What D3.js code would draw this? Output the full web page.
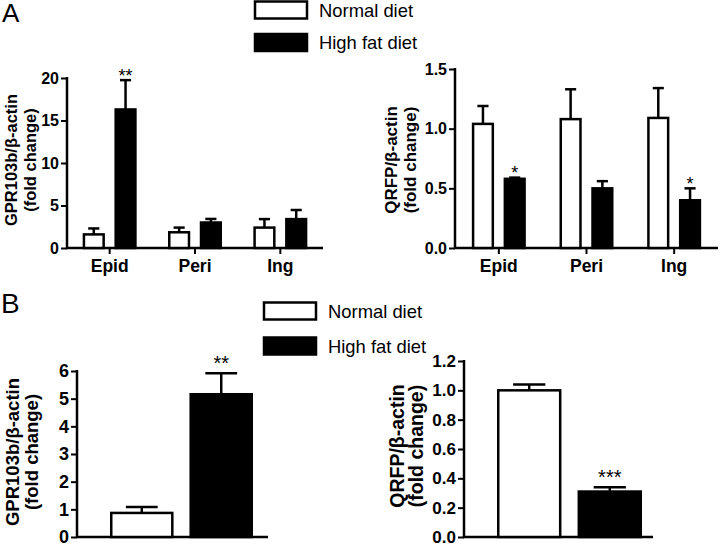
<!DOCTYPE html>
<html>
<head>
<meta charset="utf-8">
<script src="https://cdn.jsdelivr.net/npm/d3@7"></script>
<style>
  html, body { margin: 0; padding: 0; background: #fff; }
  svg { display: block; font-family: "Liberation Sans", Arial, Helvetica, sans-serif; }
</style>
</head>
<body>
<svg id="chart" width="720" height="545"></svg>
<script>
// ---------- DATA ----------
const groups = ["Normal diet", "High fat diet"];
const tissues = ["Epid", "Peri", "Ing"];

// Panel A - left: GPR103b/β-actin
const aGprNormal = [1.6, 1.85, 2.4];
const aGprNormalErr = [0.7, 0.55, 1.0];
const aGprHfd = [16.3, 3.0, 3.4];
const aGprHfdErr = [3.45, 0.42, 1.07];
const aGprSig = ["", "**", "", "", "", ""]; // order: [N,H] per tissue
const aGprTicks = [0, 5, 10, 15, 20];

// Panel A - right: QRFP/β-actin
const aQrfpNormal = [1.04, 1.08, 1.09];
const aQrfpNormalErr = [0.15, 0.25, 0.25];
const aQrfpHfd = [0.58, 0.50, 0.40];
const aQrfpHfdErr = [0.01, 0.06, 0.10];
const aQrfpSig = ["", "*", "", "", "", "*"];
const aQrfpTicks = [0, 0.5, 1.0, 1.5];

// Panel B - left: GPR103b/β-actin
const bGprValues = [0.87, 5.16];
const bGprErr = [0.21, 0.76];
const bGprSig = ["", "**"];
const bGprTicks = [0, 1, 2, 3, 4, 5, 6];

// Panel B - right: QRFP/β-actin
const bQrfpValues = [1.0, 0.31];
const bQrfpErr = [0.04, 0.03];
const bQrfpSig = ["", "***"];
const bQrfpTicks = [0, 0.2, 0.4, 0.6, 0.8, 1.0, 1.2];

// ---------- DRAWING ----------
const svg = d3.select("#chart");
const fills = d3.scaleOrdinal().domain(groups).range(["#ffffff", "#000000"]);
const SW = 2.5;

function drawAxes(g, p) {
  const y = d3.scaleLinear().domain([0, p.yMax]).range([p.yBot, p.yTop]);
  const yAxis = d3.axisLeft(y).tickValues(p.ticks).tickFormat(d3.format(p.fmt))
    .tickSizeOuter(0).tickSizeInner(6).tickPadding(2);
  const ya = g.append("g").attr("transform", `translate(${p.x0},0)`).call(yAxis);
  ya.select(".domain").attr("stroke", "#000").attr("stroke-width", SW)
    .attr("d", `M0,${p.yTop - 1}V${p.yBot}`);
  ya.selectAll(".tick line").attr("stroke", "#000").attr("stroke-width", 2);
  ya.selectAll(".tick text").attr("fill", "#000").attr("font-weight", "bold")
    .attr("font-size", p.tickFont).attr("font-family", "Liberation Sans, Arial, sans-serif");
  // x baseline
  g.append("line").attr("x1", p.x0 - 1).attr("x2", p.x1).attr("y1", p.yBot).attr("y2", p.yBot)
    .attr("stroke", "#000").attr("stroke-width", SW);
  // y title
  const cy = p.titleY;
  const t = g.append("g").attr("font-weight", "bold").attr("font-size", p.titleFont)
    .attr("text-anchor", "middle").attr("fill", "#000");
  t.append("text").attr("transform", `translate(${p.t1x},${cy}) rotate(-90)`)
    .attr("dominant-baseline", "central").text(p.title);
  t.append("text").attr("transform", `translate(${p.t2x},${cy}) rotate(-90)`)
    .attr("dominant-baseline", "central").text("(fold change)");
  return y;
}

function drawBar(g, x, w, y, v, e, fill, sig, starFont, starOff) {
  const capW = w / 2;
  const cx = x + w / 2;
  g.append("line").attr("x1", cx).attr("x2", cx).attr("y1", y(v)).attr("y2", y(v + e))
    .attr("stroke", "#000").attr("stroke-width", SW);
  g.append("line").attr("x1", cx - capW / 2).attr("x2", cx + capW / 2)
    .attr("y1", y(v + e)).attr("y2", y(v + e)).attr("stroke", "#000").attr("stroke-width", SW);
  g.append("rect").attr("x", x + SW / 2).attr("y", y(v))
    .attr("width", w - SW).attr("height", y(0) - y(v))
    .attr("fill", fill).attr("stroke", "#000").attr("stroke-width", SW);
  if (sig) {
    g.append("text").attr("x", cx).attr("y", y(v + e) + starOff)
      .attr("text-anchor", "middle").attr("font-size", starFont).attr("fill", "#000").text(sig);
  }
}

function groupedPanel(p, normal, normalErr, hfd, hfdErr, sig) {
  const g = svg.append("g");
  const y = drawAxes(g, p);
  const x = d3.scaleBand().domain(tissues).range([p.x0, p.x1]);
  const xi = d3.scaleBand().domain(groups).range([-27, 27]).paddingInner(0.3);
  // x ticks & labels
  tissues.forEach((t, i) => {
    const c = x(t) + x.bandwidth() / 2;
    g.append("line").attr("x1", c).attr("x2", c).attr("y1", p.yBot).attr("y2", p.yBot + 6)
      .attr("stroke", "#000").attr("stroke-width", 2);
    g.append("text").attr("x", c).attr("y", p.yBot + 24).attr("text-anchor", "middle")
      .attr("font-weight", "bold").attr("font-size", 17.5).attr("fill", "#000").text(t);
    drawBar(g, c + xi(groups[0]), xi.bandwidth(), y, normal[i], normalErr[i], fills(groups[0]), sig[i * 2], 18, 1.5);
    drawBar(g, c + xi(groups[1]), xi.bandwidth(), y, hfd[i], hfdErr[i], fills(groups[1]), sig[i * 2 + 1], 18, 1.5);
  });
}

function simplePanel(p, values, errs, sig) {
  const g = svg.append("g");
  const y = drawAxes(g, p);
  const x = d3.scaleBand().domain(groups).range([p.b0, p.b1]).paddingInner(0.2);
  groups.forEach((gr, i) => {
    drawBar(g, x(gr), x.bandwidth(), y, values[i], errs[i], fills(gr), sig[i], 20, -3.5);
  });
}

function legend(x, y, rowGap) {
  const g = svg.append("g").attr("transform", `translate(${x},${y})`);
  groups.forEach((gr, i) => {
    g.append("rect").attr("x", 1).attr("y", i * rowGap + 1).attr("width", 52).attr("height", 17)
      .attr("fill", fills(gr)).attr("stroke", "#000").attr("stroke-width", 2.5);
    g.append("text").attr("x", 65).attr("y", i * rowGap + 16).attr("font-size", 18.4)
      .attr("fill", "#000").text(gr);
  });
}

// Panel letters
svg.append("text").attr("x", 2).attr("y", 22).attr("font-size", 26).attr("fill", "#000").text("A");
svg.append("text").attr("x", 1).attr("y", 313).attr("font-size", 28).attr("fill", "#000").text("B");

legend(254, 0.5, 32.5);
legend(263, 301.5, 35);

groupedPanel({x0: 67, x1: 323, yTop: 78, yBot: 248, yMax: 20, ticks: aGprTicks, fmt: "d",
  tickFont: 16, title: "GPR103b/β-actin", titleFont: 16.5, t1x: 11, t2x: 29.5, titleY: 160},
  aGprNormal, aGprNormalErr, aGprHfd, aGprHfdErr, aGprSig);

groupedPanel({x0: 455, x1: 718, yTop: 69, yBot: 248, yMax: 1.5, ticks: aQrfpTicks, fmt: ".1f",
  tickFont: 16, title: "QRFP/β-actin", titleFont: 17, t1x: 391.5, t2x: 410.5, titleY: 160},
  aQrfpNormal, aQrfpNormalErr, aQrfpHfd, aQrfpHfdErr, aQrfpSig);

simplePanel({x0: 77, x1: 268, b0: 110, b1: 253, yTop: 371, yBot: 537, yMax: 6, ticks: bGprTicks, fmt: "d",
  tickFont: 18, title: "GPR103b/β-actin", titleFont: 18.5, t1x: 12, t2x: 31.5, titleY: 452},
  bGprValues, bGprErr, bGprSig);

simplePanel({x0: 464, x1: 653, b0: 497, b1: 642, yTop: 361, yBot: 537, yMax: 1.2, ticks: bQrfpTicks, fmt: ".1f",
  tickFont: 17, title: "QRFP/β-actin", titleFont: 19.5, t1x: 397, t2x: 415.5, titleY: 446},
  bQrfpValues, bQrfpErr, bQrfpSig);
</script>
</body>
</html>
